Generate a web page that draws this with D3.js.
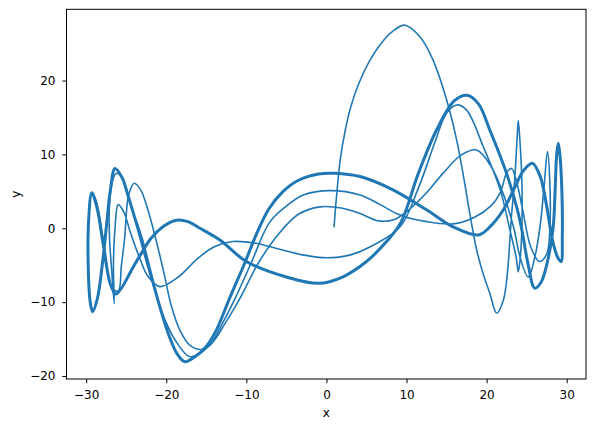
<!DOCTYPE html>
<html>
<head>
<meta charset="utf-8">
<script src="https://cdn.jsdelivr.net/npm/d3@7"></script>
<style>
  body { margin: 0; background: #fff; }
  svg { display: block; font-family: "DejaVu Sans", sans-serif; }
</style>
</head>
<body>
<div id="chart"></div>
<script>
"use strict";

// trajectory, piece by piece, in data units [x, y]

// start at (1, 0) and the first big swing to the right
const startLeg = [
  [0.95, 0.2], [1.15, 3.0], [1.4, 6.0], [1.75, 9.5], [2.3, 13.0], [3.0, 16.3],
  [4.0, 19.5], [5.3, 22.5], [6.8, 25.0], [8.3, 26.7], [9.8, 27.5], [11.7, 25.9],
  [13.3, 22.8], [15.0, 17.4], [16.25, 12.0], [17.2, 6.5], [17.9, 2.0], [18.75, -2.9],
  [19.6, -6.3], [20.4, -8.8], [21.25, -11.5], [22.1, -9.7], [22.6, -6.0], [23.1, 1.6],
  [23.5, 6.5], [23.8, 12.0], [23.95, 14.6], [24.15, 12.0], [24.4, 6.5], [24.4, 0.0],
  [24.2, -4.0], [23.95, -5.9]
];

// thin wave back to the left (peak 16.7 on the right, trough -4 at x=0)
const waveBack = [
  [23.7, -4.0], [22.9, -0.2], [21.7, 5.2], [19.6, 11.0], [17.5, 16.0], [16.25, 16.7],
  [15.0, 15.6], [13.5, 11.5], [11.5, 5.5], [9.2, 0.2], [6.0, -2.2], [3.0, -3.6],
  [0.0, -4.0], [-3.0, -3.6], [-6.0, -2.8], [-9.0, -2.0], [-11.7, -1.8], [-14.0, -2.5],
  [-16.2, -4.2], [-18.5, -6.6], [-20.8, -7.9], [-22.3, -6.5], [-23.3, -4.1], [-24.5, -0.5],
  [-25.3, 2.2], [-26.0, 3.2], [-26.4, 0.0], [-26.6, -5.0], [-26.5, -10.2]
];

// thin wave to the right (low arc, peak 2.9 near x=0)
const lowArc = [
  [-26.8, -6.0], [-27.1, -1.0], [-27.1, 3.0], [-26.8, 6.0], [-26.3, 7.4], [-25.8, 7.3],
  [-25.2, 6.0], [-24.5, 3.5], [-23.5, -0.5], [-22.5, -4.5], [-21.4, -8.5], [-20.2, -12.3],
  [-18.8, -15.3], [-17.0, -17.4], [-14.5, -15.8], [-12.5, -12.6], [-10.8, -9.5],
  [-8.5, -4.7], [-6.0, -0.8], [-3.5, 1.9], [-0.8, 2.9], [2.0, 2.7], [4.2, 2.0],
  [6.5, 1.0], [8.5, 1.2], [10.4, 2.6], [12.5, 4.8], [14.6, 7.5], [16.8, 9.9],
  [18.75, 10.6], [20.6, 8.3], [22.3, 4.0], [23.4, 0.0], [24.2, -4.0], [25.2, -6.6],
  [26.0, -4.0], [26.7, 0.5], [27.2, 6.0], [27.6, 10.4], [27.9, 6.0], [27.9, 0.0],
  [27.5, -3.5]
];

// thin wave back to the left (mid arc, peak 5.1 near x=0)
const midArc = [
  [26.6, -4.5], [25.5, -2.5], [24.5, 2.5], [23.7, 6.5], [23.1, 8.1], [22.5, 7.5],
  [21.7, 4.8], [20.5, 3.0], [18.5, 1.5], [15.8, 0.6], [12.5, 0.9], [9.2, 1.8],
  [6.7, 3.2], [4.2, 4.5], [0.4, 5.1], [-2.9, 4.5], [-5.0, 3.0], [-7.1, 0.8],
  [-9.4, -4.7], [-11.4, -9.5], [-12.9, -12.7], [-14.3, -15.4], [-15.5, -16.4],
  [-17.0, -15.9], [-18.3, -13.8], [-19.4, -10.4], [-20.3, -6.0], [-21.3, -1.5],
  [-22.3, 2.5], [-23.2, 5.2], [-24.0, 6.1], [-24.7, 4.5], [-25.2, -1.35], [-25.6, -5.0],
  [-26.0, -8.5], [-26.8, -8.0], [-27.8, -2.0], [-28.7, 3.5], [-29.3, 4.8], [-29.7, 1.0],
  [-29.75, -5.0], [-29.5, -10.0], [-29.2, -11.3]
];

// the settled orbit, traced many times (the heavy band)
const orbitRight = [
  [-28.6, -9.5], [-28.0, -5.0], [-27.5, 0.0], [-27.0, 5.0], [-26.4, 8.1], [-25.5, 6.8],
  [-24.8, 4.5], [-23.9, 1.3], [-23.1, -1.35], [-21.9, -6.3], [-21.0, -9.9], [-20.2, -12.8],
  [-19.6, -14.7], [-18.7, -16.9], [-17.7, -18.06], [-16.3, -17.3], [-15.0, -16.0],
  [-13.75, -13.8], [-12.1, -9.5], [-10.2, -4.7], [-8.7, -0.7], [-7.2, 2.6], [-5.5, 4.9],
  [-3.5, 6.5], [-1.0, 7.35], [1.0, 7.45], [4.2, 7.0], [8.3, 5.2], [12.5, 2.5],
  [15.8, 0.2], [19.0, -0.9], [20.5, 0.3], [22.1, 2.5], [23.5, 5.5], [24.6, 7.8],
  [25.7, 8.8], [26.7, 7.0], [27.5, 3.0], [28.2, -1.5], [28.9, -4.0], [29.3, -4.5],
  [29.45, -1.0], [29.4, 5.0], [29.15, 10.0], [28.95, 11.5], [28.75, 10.0], [28.55, 5.0],
  [28.3, 0.0], [27.6, -4.5], [26.8, -7.3], [26.0, -8.1]
];
const orbitLeft = [
  [25.2, -5.0], [24.4, -0.2], [23.75, 2.9], [22.5, 7.4], [20.4, 13.3], [19.0, 16.8],
  [17.6, 18.0], [16.0, 17.3], [13.75, 13.3], [11.5, 7.5], [9.3, 0.8], [7.5, -1.8],
  [5.0, -4.5], [2.0, -6.6], [-1.0, -7.45], [-5.0, -6.6], [-10.0, -4.5], [-13.3, -1.6],
  [-15.8, 0.0], [-17.3, 0.9], [-18.75, 1.1], [-20.3, 0.3], [-21.9, -1.35], [-23.0, -3.2],
  [-24.0, -5.0], [-24.9, -6.8], [-25.6, -8.1], [-26.3, -8.9], [-27.0, -7.5], [-27.9, -2.0],
  [-28.7, 3.0], [-29.3, 4.8], [-29.7, 1.0], [-29.75, -5.0], [-29.5, -10.0], [-29.2, -11.3]
];

const xTicks = [-30, -20, -10, 0, 10, 20, 30];
const yTicks = [-20, -10, 0, 10, 20];

const width = 596, height = 429;
const plot = { left: 66.5, right: 586, top: 9.3, bottom: 379 };
const colour = "#1f77b4";

const x = d3.scaleLinear().domain([-32.46, 32.41]).range([plot.left, plot.right]);
const y = d3.scaleLinear().domain([-20.41, 29.65]).range([plot.bottom, plot.top]);

const svg = d3
  .select("#chart")
  .append("svg")
  .attr("width", width)
  .attr("height", height)
  .attr("viewBox", [0, 0, width, height]);

svg.append("rect").attr("width", width).attr("height", height).attr("fill", "#fff");

svg.append("defs")
  .append("clipPath")
  .attr("id", "clip")
  .append("rect")
  .attr("x", plot.left)
  .attr("y", plot.top)
  .attr("width", plot.right - plot.left)
  .attr("height", plot.bottom - plot.top);

const line = d3
  .line()
  .x((d) => x(d[0]))
  .y((d) => y(d[1]))
  .curve(d3.curveCatmullRom.alpha(0.5));

const lineClosed = d3
  .line()
  .x((d) => x(d[0]))
  .y((d) => y(d[1]))
  .curve(d3.curveCatmullRomClosed.alpha(0.5));

const g = svg.append("g").attr("clip-path", "url(#clip)");

// transient part, one continuous thin line
const transient = [].concat(startLeg, waveBack, lowArc, midArc);
g.append("path")
  .datum(transient)
  .attr("d", line)
  .attr("fill", "none")
  .attr("stroke", colour)
  .attr("stroke-width", 1.6)
  .attr("stroke-linejoin", "round")
  .attr("stroke-linecap", "round");

// repeated orbit: many near-identical passes give a heavy band
const orbit = [].concat(orbitRight, orbitLeft);
g.append("path")
  .datum(orbit)
  .attr("d", lineClosed)
  .attr("fill", "none")
  .attr("stroke", colour)
  .attr("stroke-width", 3.0)
  .attr("stroke-linejoin", "round");

// axes
const xAxis = d3
  .axisBottom(x)
  .tickValues(xTicks)
  .tickSize(4.2)
  .tickSizeOuter(0)
  .tickPadding(7.3)
  .tickFormat(d3.format("d"));

const yAxis = d3
  .axisLeft(y)
  .tickValues(yTicks)
  .tickSize(4.2)
  .tickSizeOuter(0)
  .tickPadding(6.8)
  .tickFormat(d3.format("d"));

const gx = svg.append("g").attr("transform", `translate(0,${plot.bottom})`).call(xAxis);
const gy = svg.append("g").attr("transform", `translate(${plot.left},0)`).call(yAxis);

[gx, gy].forEach((a) => {
  a.select(".domain").remove();
  a.selectAll(".tick line").attr("stroke", "#000").attr("stroke-width", 1);
  a.selectAll(".tick text")
    .attr("fill", "#000")
    .style("font-family", '"DejaVu Sans", sans-serif')
    .style("font-size", "12px");
});

// frame (all four spines)
svg.append("rect")
  .attr("x", plot.left)
  .attr("y", plot.top)
  .attr("width", plot.right - plot.left)
  .attr("height", plot.bottom - plot.top)
  .attr("fill", "none")
  .attr("stroke", "#000")
  .attr("stroke-width", 1);

// axis labels
svg.append("text")
  .attr("x", (plot.left + plot.right) / 2)
  .attr("y", 416.5)
  .attr("text-anchor", "middle")
  .style("font-size", "12px")
  .text("x");

svg.append("text")
  .attr("transform", `translate(19.5,${(plot.top + plot.bottom) / 2}) rotate(-90)`)
  .attr("text-anchor", "middle")
  .style("font-size", "12px")
  .text("y");
</script>
</body>
</html>
